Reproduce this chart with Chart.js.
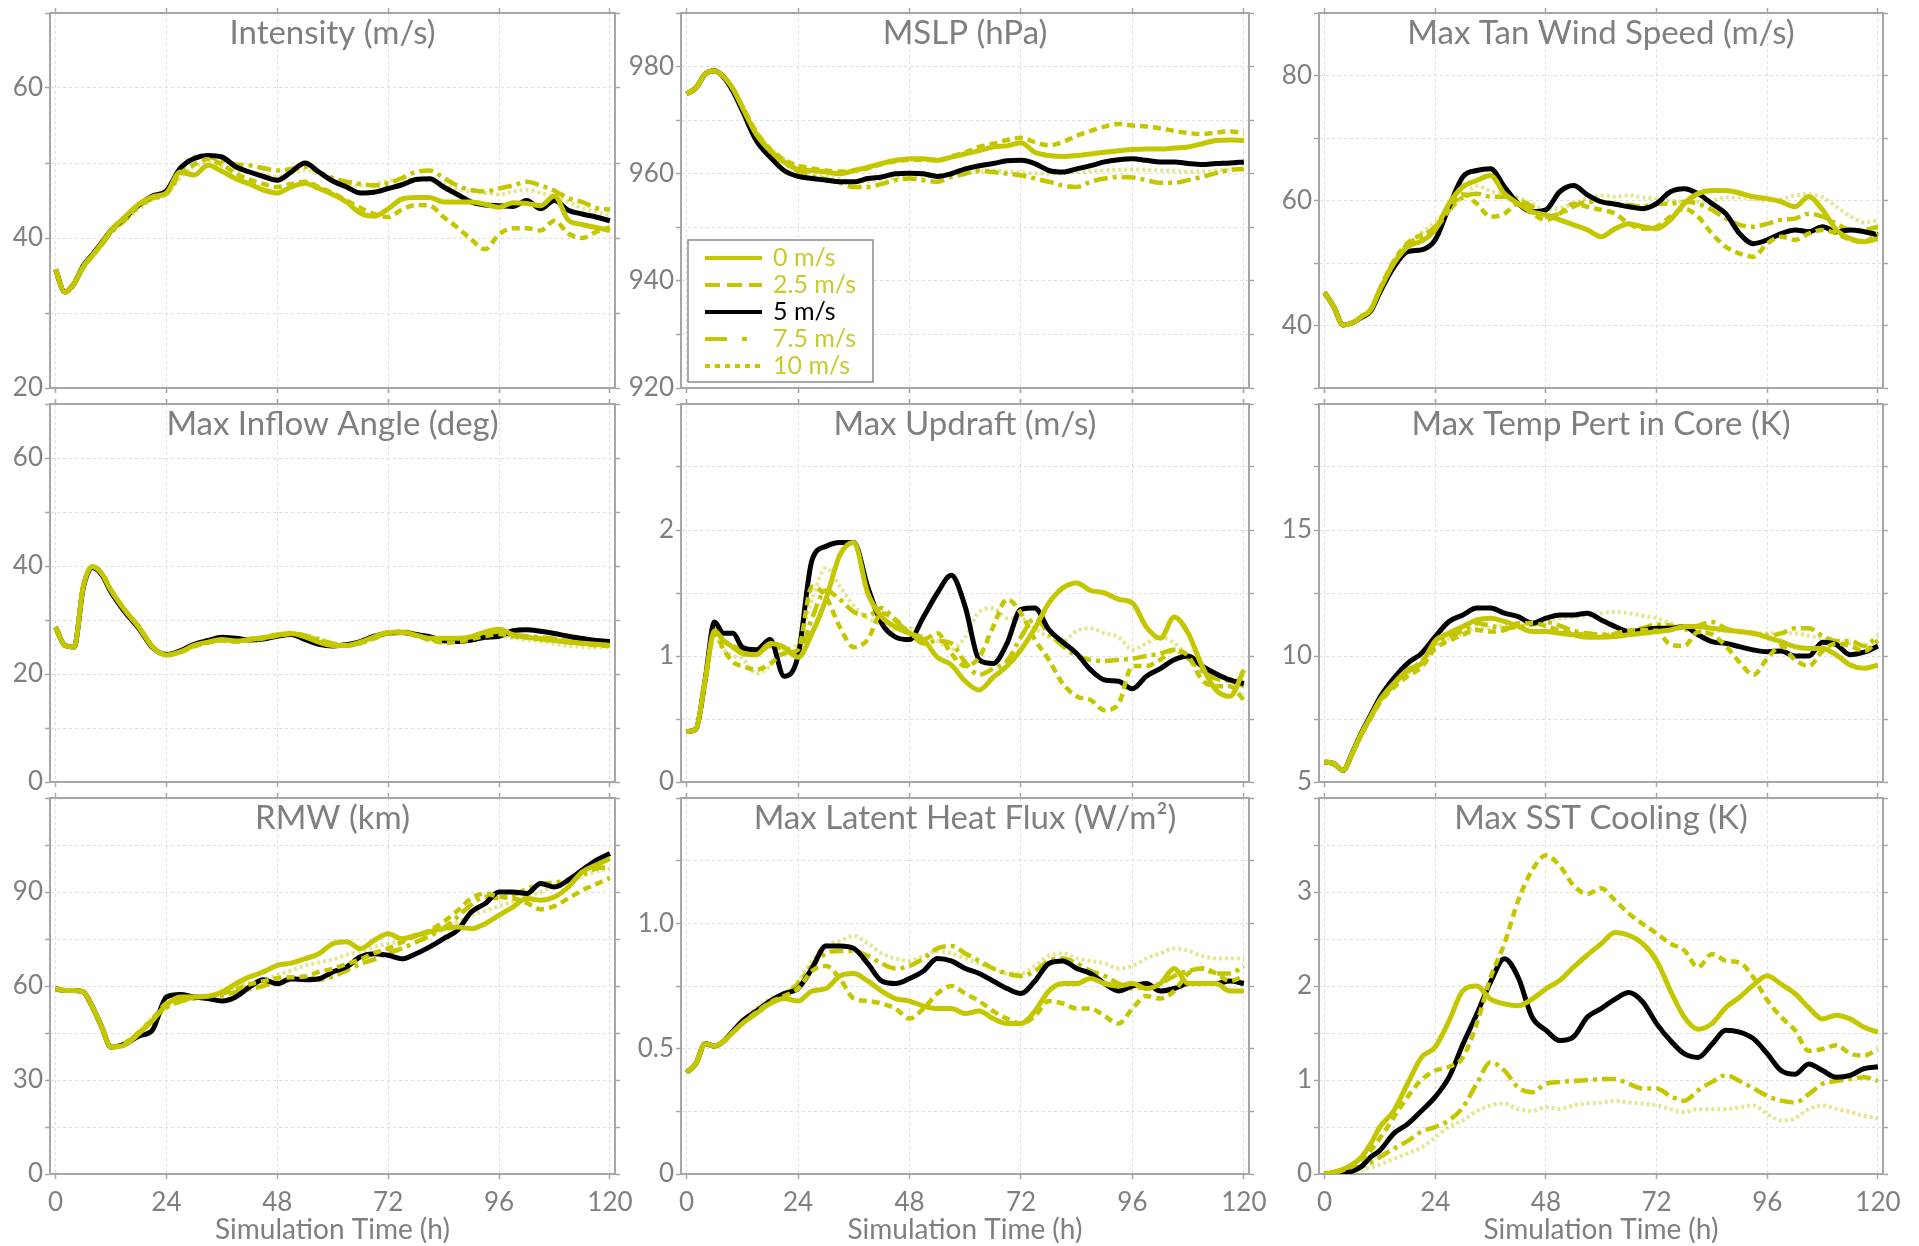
<!DOCTYPE html>
<html>
<head>
<meta charset="utf-8">
<script src="https://cdn.jsdelivr.net/npm/chart.js@4.4.1/dist/chart.umd.min.js"></script>
<style>
  body { margin: 0; background: #fff; width: 1919px; height: 1246px; overflow: hidden; position: relative; }
</style>
</head>
<body>
<script>
// simulation hours shared by every series
const hours = [0,2,4,6,8,10,12,15,18,21,24,27,30,33,36,39,42,45,48,51,54,57,60,63,66,69,72,75,78,81,84,87,90,93,96,99,102,105,108,111,114,117,120];
const xTicks = [0, 24, 48, 72, 96, 120];
const seriesLabels = ["0 m/s", "2.5 m/s", "5 m/s", "7.5 m/s", "10 m/s"];

// Intensity (m/s)
const int0  = [35.8,32.8,33.9,36.2,37.7,39.3,41.0,42.8,44.5,45.5,46.0,48.8,48.4,49.7,48.9,47.9,47.2,46.4,46.0,46.8,47.3,46.6,45.8,44.8,43.3,42.9,43.9,45.2,45.4,45.4,44.8,44.8,44.8,44.5,44.1,44.7,44.6,44.3,45.6,42.4,41.8,41.4,41.0];
const int25 = [35.8,32.7,33.8,36.0,37.6,39.2,40.9,42.6,44.3,45.3,45.9,48.5,49.8,50.5,49.8,48.6,47.8,47.2,46.8,47.2,47.5,46.8,46.0,45.0,44.0,43.2,42.8,43.8,44.4,44.3,42.8,41.4,39.8,38.5,40.5,41.3,41.3,41.0,42.3,40.6,40.0,40.8,41.4];
const int5  = [35.8,32.8,33.9,36.3,37.8,39.4,41.0,42.7,44.4,45.6,46.3,49.3,50.6,51.0,50.8,49.5,48.8,48.2,47.7,48.8,50.0,48.8,47.6,46.8,46.0,46.1,46.6,47.1,47.8,47.9,46.8,45.8,44.8,44.4,44.3,44.2,45.0,43.9,45.0,43.7,43.2,42.8,42.3];
const int75 = [35.8,32.8,33.9,36.2,37.6,39.1,40.7,42.4,44.2,45.3,46.2,49.0,50.8,50.8,50.3,49.8,49.7,49.3,49.0,49.2,49.5,48.8,48.0,47.5,47.2,47.0,47.3,48.0,48.8,49.0,48.0,47.0,46.4,46.2,46.6,47.0,47.5,47.0,46.3,45.3,44.8,44.0,43.8];
const int10 = [35.8,32.9,34.0,36.1,37.5,39.0,40.6,42.2,43.9,45.1,45.8,48.0,49.5,50.0,49.6,49.0,48.8,48.5,48.2,48.6,49.0,48.5,47.8,47.2,47.0,47.2,47.6,47.8,47.9,47.6,47.2,46.5,46.2,46.0,45.8,46.2,46.4,46.0,45.5,44.8,44.0,43.5,43.0];

// MSLP (hPa)
const mslp0  = [974.9,976.0,978.6,979.2,978.1,975.8,972.4,967.4,964.3,962.2,960.8,960.6,960.3,960.0,960.6,961.2,961.9,962.5,962.8,962.8,962.5,963.1,963.7,964.3,965.0,965.2,965.8,964.0,963.4,963.2,963.4,963.7,964.0,964.3,964.5,964.6,964.6,964.8,965.0,965.6,966.2,966.3,966.2];
const mslp25 = [974.9,976.0,978.6,979.2,978.1,975.9,972.6,967.8,964.6,962.6,961.5,961.0,960.6,960.4,960.5,961.0,961.8,962.3,962.6,962.6,962.5,963.2,964.0,965.0,965.6,966.3,966.7,965.9,965.3,965.9,967.1,968.0,968.8,969.3,969.0,968.8,968.5,968.0,967.6,967.4,967.7,967.9,967.6];
const mslp5  = [974.9,976.0,978.6,979.2,978.0,975.4,971.8,966.2,963.1,960.6,959.5,959.1,958.8,958.5,958.5,959.1,959.4,960.0,960.1,960.0,959.5,960.0,960.9,961.5,961.9,962.4,962.5,961.9,960.6,960.3,960.9,961.5,962.2,962.6,962.8,962.5,962.2,962.2,961.9,961.7,961.9,962.0,962.2];
const mslp75 = [974.9,976.0,978.6,979.2,978.1,975.7,972.3,967.2,964.0,962.0,960.5,959.5,959.0,958.3,957.5,957.5,958.1,958.8,959.1,958.8,958.5,959.4,960.0,960.6,960.3,960.0,959.7,959.1,958.5,957.8,957.5,958.5,959.1,959.4,959.3,958.8,958.3,958.3,958.8,959.4,960.1,960.7,960.9];
const mslp10 = [974.9,976.0,978.6,979.2,978.2,976.0,972.8,967.9,964.8,962.8,961.0,960.2,959.5,959.0,958.5,958.6,959.0,959.2,959.5,959.6,959.8,960.0,960.3,960.4,960.6,960.4,960.2,960.1,960.0,960.1,960.3,960.5,960.6,960.7,960.8,960.7,960.6,960.5,960.4,960.4,960.6,960.8,961.0];

// Max Tan Wind Speed (m/s)
const tan0  = [45.3,43.0,40.1,40.4,41.4,42.5,45.7,49.9,52.6,53.5,55.3,59.5,62.2,63.2,64.0,61.1,59.5,58.2,57.7,56.9,56.1,55.3,54.2,55.5,56.3,55.8,55.5,56.9,59.5,61.1,61.6,61.6,61.2,60.6,60.3,59.8,59.0,60.6,58.5,55.3,53.9,53.4,53.9];
const tan25 = [45.3,43.0,40.1,40.4,41.4,42.6,45.9,50.3,53.2,54.5,55.5,58.5,61.0,59.5,57.4,57.9,59.5,57.9,56.9,57.9,59.5,59.0,58.5,57.9,56.3,55.5,55.8,57.4,58.7,57.4,54.7,52.6,51.5,51.0,53.1,54.2,53.7,54.7,55.3,54.7,53.7,53.4,54.7];
const tan5  = [45.3,43.0,40.1,40.4,41.3,42.3,45.3,49.3,51.8,52.1,53.7,59.0,63.8,64.8,65.1,62.2,59.5,58.2,58.5,61.4,62.4,60.9,59.8,59.4,59.0,58.7,59.5,61.4,61.9,61.1,59.5,57.9,54.7,53.1,53.7,54.7,55.3,55.0,55.8,55.0,55.3,55.0,54.5];
const tan75 = [45.3,43.0,40.1,40.4,41.4,42.5,45.8,50.1,53.0,54.2,55.8,58.5,60.5,61.1,60.6,60.6,60.1,59.0,57.4,57.9,59.0,59.8,59.8,59.5,59.3,59.0,59.5,59.5,59.8,59.5,58.5,57.1,56.1,55.8,56.3,56.9,57.1,57.9,57.4,56.3,55.3,55.3,55.8];
const tan10 = [45.3,43.0,40.1,40.4,41.5,42.6,45.6,49.6,52.4,54.8,56.5,58.8,60.5,62.3,61.5,61.0,60.5,59.5,58.5,58.8,59.5,60.3,60.8,60.6,60.8,60.5,60.3,60.0,59.8,59.8,60.0,60.5,60.5,60.2,60.0,60.2,60.8,61.0,60.5,59.0,57.5,56.5,56.8];

// Max Inflow Angle (deg)
const inflow0  = [28.7,25.3,25.0,36.2,39.9,38.6,35.5,31.8,28.7,25.0,23.5,24.1,25.3,25.9,26.4,26.1,26.4,26.7,27.2,27.5,26.9,25.9,25.3,25.3,25.9,26.9,27.7,27.8,27.2,26.6,26.6,26.6,26.9,27.8,28.3,27.3,26.8,26.5,26.2,25.9,25.7,25.5,25.3];
const inflow25 = [28.7,25.3,25.0,36.3,39.9,38.7,35.6,31.9,28.8,25.1,23.6,24.0,25.1,25.8,26.2,26.0,26.3,26.6,27.1,27.4,27.0,26.2,25.4,25.2,25.7,26.6,27.5,27.6,27.1,26.3,25.8,25.9,26.5,27.0,27.4,27.0,26.8,26.6,26.3,26.0,25.6,25.3,25.2];
const inflow5  = [28.7,25.3,25.0,36.0,39.7,38.4,35.2,31.5,28.5,24.9,23.6,24.3,25.5,26.2,26.8,26.6,26.3,26.5,27.0,27.3,26.4,25.5,25.2,25.4,26.0,27.0,27.6,27.7,27.3,26.9,26.2,26.0,26.3,26.8,27.0,28.0,28.2,27.9,27.5,27.0,26.6,26.2,26.0];
const inflow75 = [28.7,25.3,25.0,36.2,39.8,38.6,35.5,31.8,28.7,25.1,23.7,24.2,25.4,26.0,26.3,26.1,26.5,26.8,27.3,27.6,27.1,26.4,25.6,25.3,25.8,26.8,27.6,27.9,27.4,26.5,26.0,26.0,26.3,26.9,27.5,27.2,27.0,26.8,26.5,26.2,25.9,25.8,25.6];
const inflow10 = [28.7,25.3,25.0,36.1,39.8,38.5,35.4,31.7,28.6,25.0,23.6,24.1,25.2,25.8,26.3,26.2,26.4,26.8,27.2,27.5,27.2,26.6,25.8,25.3,25.7,26.6,27.4,27.8,27.5,26.8,26.2,26.0,26.2,26.6,27.0,26.7,26.3,26.0,25.6,25.2,25.0,24.9,25.0];

// Max Updraft (m/s)
const updraft0  = [0.40,0.42,0.81,1.20,1.12,1.07,1.02,1.01,1.10,1.07,0.99,1.18,1.45,1.80,1.90,1.50,1.31,1.23,1.18,1.13,0.99,0.93,0.80,0.73,0.83,0.92,1.05,1.22,1.42,1.54,1.58,1.52,1.50,1.45,1.42,1.23,1.14,1.31,1.18,0.92,0.73,0.68,0.89];
const updraft25 = [0.40,0.42,0.80,1.18,1.05,0.95,0.92,0.89,0.94,1.02,1.05,1.55,1.47,1.23,1.07,1.13,1.34,1.29,1.18,1.13,1.18,1.02,0.92,0.99,1.23,1.45,1.34,1.13,0.97,0.78,0.68,0.65,0.57,0.62,0.92,0.92,0.97,1.05,1.00,0.81,0.76,0.76,0.65];
const updraft5  = [0.40,0.42,0.81,1.27,1.18,1.18,1.07,1.05,1.13,0.84,1.00,1.76,1.87,1.90,1.90,1.55,1.26,1.15,1.13,1.31,1.50,1.64,1.39,0.97,0.94,1.10,1.37,1.38,1.21,1.11,1.02,0.89,0.81,0.80,0.74,0.84,0.90,0.97,1.00,0.92,0.86,0.81,0.78];
const updraft75 = [0.40,0.42,0.81,1.22,1.12,1.08,1.05,1.02,1.08,1.05,1.00,1.30,1.52,1.45,1.35,1.32,1.38,1.28,1.18,1.10,1.12,1.10,0.95,0.85,0.90,0.96,1.15,1.30,1.18,1.08,1.00,0.97,0.96,0.97,0.98,1.00,1.02,1.05,0.98,0.88,0.82,0.80,0.76];
const updraft10 = [0.40,0.42,0.80,1.15,1.05,1.00,0.98,0.86,0.92,1.05,1.10,1.45,1.70,1.55,1.40,1.30,1.25,1.20,1.22,1.15,1.12,1.05,1.15,1.35,1.38,1.30,1.30,1.22,1.15,1.12,1.20,1.22,1.18,1.15,1.05,1.10,1.15,1.10,1.00,0.90,0.85,0.82,0.80];

// Max Temp Pert in Core (K)
const temp0  = [5.80,5.73,5.46,6.13,6.92,7.59,8.25,8.91,9.44,9.70,10.60,10.90,11.17,11.43,11.50,11.37,11.17,10.97,10.97,10.90,10.84,10.74,10.74,10.77,10.84,10.90,10.97,11.03,11.17,11.17,11.10,11.03,10.97,10.90,10.74,10.57,10.37,10.30,10.30,10.04,9.64,9.51,9.64];
const temp25 = [5.80,5.73,5.46,6.10,6.88,7.52,8.15,8.75,9.20,9.55,10.30,10.60,10.85,11.03,10.97,11.03,11.30,11.30,11.20,11.00,10.90,10.84,10.80,10.90,11.00,11.03,11.00,10.45,10.40,10.95,10.85,10.40,9.75,9.25,9.90,10.40,9.85,9.60,10.20,10.50,10.40,10.20,10.60];
const temp5  = [5.80,5.73,5.46,6.15,6.95,7.65,8.35,9.11,9.71,10.10,10.77,11.37,11.63,11.90,11.90,11.70,11.56,11.30,11.50,11.63,11.63,11.70,11.43,11.17,10.97,11.03,11.10,11.10,11.17,10.84,10.57,10.50,10.37,10.24,10.17,10.20,10.00,10.00,10.55,10.45,10.05,10.15,10.40];
const temp75 = [5.80,5.73,5.46,6.12,6.90,7.55,8.20,8.85,9.35,9.80,10.50,10.80,11.00,11.30,11.20,11.10,11.15,11.25,11.35,11.20,11.00,10.90,10.85,10.85,11.00,11.10,11.25,11.20,11.05,11.20,11.35,11.10,10.95,10.90,10.80,10.90,11.10,11.10,10.80,10.60,10.60,10.40,10.80];
const temp10 = [5.80,5.73,5.46,6.11,6.89,7.55,8.20,8.80,9.30,9.75,10.40,10.70,10.90,11.10,11.10,11.20,11.20,11.30,11.40,11.50,11.55,11.60,11.70,11.75,11.70,11.60,11.50,11.30,11.10,11.00,11.00,11.00,11.00,10.90,10.90,10.90,10.90,10.80,10.70,10.60,10.50,10.40,10.60];

// RMW (km)
const rmw0  = [59.1,58.6,58.6,58.1,53.3,46.9,40.5,41.2,44.8,49.0,54.0,56.5,56.5,56.7,58.1,60.7,62.9,64.5,66.6,67.3,68.7,70.3,73.5,74.1,71.9,74.6,76.7,75.1,76.2,77.3,78.3,78.8,78.3,79.9,82.6,85.2,87.9,87.4,88.4,91.6,96.4,98.6,100.7];
const rmw25 = [59.1,58.6,58.6,58.1,53.3,46.9,40.5,41.8,45.2,49.5,54.5,55.5,56.3,57.0,57.5,59.0,60.5,61.5,62.5,62.8,63.0,64.5,65.5,67.0,68.5,70.5,72.0,74.0,76.0,77.8,80.5,84.0,88.0,89.5,88.5,88.0,86.5,84.5,85.5,88.0,90.5,92.5,94.5];
const rmw5  = [59.1,58.6,58.6,58.1,53.3,46.9,40.5,41.5,44.0,46.0,56.5,57.3,56.5,56.0,55.2,56.5,59.7,62.0,60.7,62.3,62.0,62.3,64.5,66.1,69.3,70.3,69.8,68.7,70.3,72.5,75.1,77.8,83.6,86.3,90.0,90.0,89.5,92.7,91.6,93.8,97.0,100.1,102.3];
const rmw75 = [59.1,58.6,58.6,58.1,53.3,46.9,40.5,41.6,45.0,49.0,53.0,55.0,56.0,56.5,57.0,58.0,59.0,60.0,61.5,62.0,63.0,62.0,63.0,65.0,67.0,68.5,70.5,72.0,74.0,76.0,78.5,82.0,86.0,88.5,88.0,89.0,91.0,92.5,93.0,94.0,95.5,97.5,98.0];
const rmw10 = [59.1,58.6,58.6,58.1,53.3,46.9,40.5,41.7,45.5,50.0,53.5,55.5,56.5,57.0,58.0,59.5,61.0,62.0,63.5,65.0,66.5,67.5,68.5,70.0,71.0,72.5,73.5,74.5,76.0,77.5,79.0,80.5,82.5,84.0,85.5,87.0,88.5,90.0,92.0,93.5,95.0,96.5,97.5];

// Max Latent Heat Flux (W/m2)
const lhf0  = [0.405,0.44,0.52,0.51,0.53,0.565,0.60,0.64,0.68,0.70,0.69,0.73,0.74,0.79,0.80,0.77,0.73,0.70,0.69,0.67,0.66,0.66,0.64,0.65,0.62,0.60,0.60,0.65,0.73,0.76,0.76,0.78,0.76,0.75,0.76,0.74,0.76,0.82,0.76,0.76,0.76,0.73,0.73];
const lhf25 = [0.405,0.44,0.52,0.51,0.53,0.565,0.60,0.645,0.685,0.71,0.74,0.81,0.83,0.78,0.70,0.69,0.68,0.66,0.62,0.66,0.72,0.75,0.72,0.69,0.65,0.62,0.60,0.63,0.69,0.68,0.66,0.66,0.63,0.60,0.66,0.71,0.70,0.73,0.80,0.82,0.80,0.77,0.79];
const lhf5  = [0.405,0.44,0.52,0.51,0.53,0.57,0.61,0.65,0.69,0.72,0.74,0.82,0.91,0.91,0.90,0.84,0.77,0.76,0.78,0.81,0.86,0.85,0.82,0.80,0.77,0.74,0.72,0.77,0.84,0.85,0.82,0.80,0.76,0.73,0.75,0.76,0.73,0.74,0.76,0.76,0.76,0.77,0.76];
const lhf75 = [0.405,0.44,0.52,0.51,0.53,0.57,0.61,0.65,0.69,0.71,0.76,0.83,0.88,0.89,0.89,0.87,0.84,0.82,0.83,0.86,0.90,0.91,0.88,0.85,0.82,0.80,0.79,0.81,0.85,0.86,0.84,0.81,0.79,0.76,0.74,0.75,0.76,0.79,0.81,0.82,0.80,0.80,0.83];
const lhf10 = [0.405,0.44,0.52,0.51,0.53,0.57,0.61,0.66,0.70,0.72,0.77,0.85,0.91,0.93,0.95,0.92,0.88,0.86,0.85,0.87,0.89,0.88,0.86,0.84,0.82,0.80,0.80,0.83,0.87,0.88,0.86,0.85,0.84,0.82,0.83,0.86,0.88,0.90,0.89,0.87,0.86,0.86,0.86];

// Max SST Cooling (K)
const sst0  = [0.0,0.02,0.05,0.10,0.18,0.32,0.50,0.67,0.96,1.24,1.35,1.63,1.95,2.00,1.86,1.81,1.79,1.86,1.97,2.06,2.20,2.33,2.45,2.57,2.54,2.45,2.27,1.95,1.67,1.54,1.60,1.77,1.88,2.01,2.11,2.02,1.92,1.77,1.65,1.69,1.65,1.56,1.51];
const sst25 = [0.0,0.01,0.04,0.08,0.15,0.25,0.38,0.60,0.82,1.00,1.10,1.14,1.24,1.60,2.09,2.45,2.91,3.23,3.39,3.28,3.07,2.98,3.04,2.91,2.77,2.66,2.56,2.45,2.38,2.20,2.34,2.27,2.25,2.09,1.85,1.67,1.53,1.31,1.33,1.37,1.28,1.26,1.33];
const sst5  = [0.0,0.0,0.01,0.03,0.08,0.18,0.25,0.43,0.53,0.67,0.82,1.03,1.38,1.70,2.04,2.29,2.09,1.67,1.53,1.42,1.46,1.67,1.76,1.86,1.93,1.83,1.60,1.42,1.28,1.24,1.38,1.53,1.51,1.44,1.28,1.10,1.06,1.17,1.10,1.03,1.05,1.12,1.14];
const sst75 = [0.0,0.0,0.02,0.05,0.08,0.12,0.18,0.27,0.35,0.45,0.50,0.57,0.71,0.96,1.19,1.10,0.92,0.87,0.96,0.98,0.99,1.00,1.01,1.01,0.96,0.91,0.91,0.83,0.78,0.89,0.98,1.05,0.99,0.91,0.83,0.78,0.76,0.85,0.96,0.99,1.01,1.03,0.99];
const sst10 = [0.0,0.0,0.01,0.02,0.04,0.07,0.10,0.16,0.22,0.28,0.39,0.50,0.57,0.67,0.73,0.75,0.69,0.67,0.71,0.69,0.73,0.75,0.76,0.78,0.76,0.75,0.73,0.69,0.66,0.69,0.69,0.69,0.71,0.73,0.64,0.57,0.59,0.69,0.73,0.69,0.66,0.62,0.59];

// y axis: [min, max, grid step, label step, first labelled value]
const panels = [
  { title: "Intensity (m/s)", series: [int0, int25, int5, int75, int10], y: [20, 70, 10, 20, 20] },
  { title: "MSLP (hPa)", series: [mslp0, mslp25, mslp5, mslp75, mslp10], y: [920, 990, 10, 20, 920] },
  { title: "Max Tan Wind Speed (m/s)", series: [tan0, tan25, tan5, tan75, tan10], y: [30, 90, 10, 20, 40] },
  { title: "Max Inflow Angle (deg)", series: [inflow0, inflow25, inflow5, inflow75, inflow10], y: [0, 70, 10, 20, 0] },
  { title: "Max Updraft (m/s)", series: [updraft0, updraft25, updraft5, updraft75, updraft10], y: [0, 3, 0.5, 1, 0] },
  { title: "Max Temp Pert in Core (K)", series: [temp0, temp25, temp5, temp75, temp10], y: [5, 20, 2.5, 5, 5] },
  { title: "RMW (km)", series: [rmw0, rmw25, rmw5, rmw75, rmw10], y: [0, 120, 15, 30, 0] },
  { title: "Max Latent Heat Flux (W/m\u00B2)", series: [lhf0, lhf25, lhf5, lhf75, lhf10], y: [0, 1.5, 0.25, 0.5, 0], fixed: 1 },
  { title: "Max SST Cooling (K)", series: [sst0, sst25, sst5, sst75, sst10], y: [0, 4, 0.5, 1, 0] },
];

const yellow = "#c4c700";
const legendYellow = "#c9c92e";
const frameGray = "#a6a6a6";
const textGray = "#7f7f7f";

const lineStyles = [
  { color: yellow, dash: [], width: 5 },
  { color: yellow, dash: [8, 5], width: 4.5 },
  { color: "#000000", dash: [], width: 5 },
  { color: yellow, dash: [14, 5, 4, 5], width: 4.5 },
  { color: "rgba(196,199,0,0.45)", dash: [3, 3], width: 4 },
];
const legendDash = [[], [15, 7], [], [22, 15, 5, 15], [5, 5]];

// page position of every plot frame
const colLeft = [50, 681, 1319], colRight = [615, 1249, 1883];
const rowTop = [13, 404, 798], rowBottom = [388, 782, 1174];
const padL = 60, padR = 12, padT = 10;

const panelTitle = {
  id: "panelTitle",
  afterDatasetsDraw(chart, args, opts) {
    const { ctx, chartArea } = chart;
    ctx.save();
    ctx.font = "33px Lato";
    ctx.fillStyle = textGray;
    ctx.textAlign = "center";
    ctx.textBaseline = "middle";
    ctx.fillText(opts.text, (chartArea.left + chartArea.right) / 2, chartArea.top + 20);
    ctx.restore();
  },
};

const boxLegend = {
  id: "boxLegend",
  afterDatasetsDraw(chart) {
    const { ctx, chartArea } = chart;
    const w = 185, h = 142;
    const x = chartArea.left + 7, y = chartArea.bottom - 6 - h;
    ctx.save();
    ctx.fillStyle = "#fff";
    ctx.fillRect(x, y, w, h);
    ctx.strokeStyle = "#8c8c8c";
    ctx.lineWidth = 1.5;
    ctx.strokeRect(x, y, w, h);
    chart.data.datasets.forEach((ds, k) => {
      const yy = y + 18 + k * 27;
      ctx.beginPath();
      ctx.setLineDash(legendDash[k]);
      ctx.lineWidth = 4;
      ctx.strokeStyle = k === 2 ? "#000" : yellow;
      ctx.moveTo(x + 17, yy);
      ctx.lineTo(x + 74, yy);
      ctx.stroke();
      ctx.setLineDash([]);
      ctx.fillStyle = k === 2 ? "#000" : legendYellow;
      ctx.font = "25px Lato";
      ctx.textAlign = "left";
      ctx.textBaseline = "middle";
      ctx.fillText(ds.label, x + 85, yy);
    });
    ctx.restore();
  },
};

function yTickList(min, max, step) {
  const out = [];
  for (let v = min; v <= max + 1e-9; v += step) out.push({ value: Math.round(v * 1000) / 1000 });
  return out;
}

panels.forEach((p, i) => {
  const col = i % 3, row = Math.floor(i / 3);
  const bottomRow = row === 2;
  const padB = bottomRow ? 73 : 10;
  const extraR = bottomRow ? 30 : 0; // room for the "120" label
  const fw = colRight[col] - colLeft[col];
  const fh = rowBottom[row] - rowTop[row];
  const [yMin, yMax, yStep, labelStep, labelBase] = p.y;

  const canvas = document.createElement("canvas");
  canvas.width = fw + padL + padR + extraR;
  canvas.height = fh + padT + padB;
  canvas.style.position = "absolute";
  canvas.style.left = colLeft[col] - padL + "px";
  canvas.style.top = rowTop[row] - padT + "px";
  document.body.appendChild(canvas);

  const datasets = p.series.map((arr, k) => ({
    label: seriesLabels[k],
    data: hours.map((h, j) => ({ x: h, y: arr[j] })),
    borderColor: lineStyles[k].color,
    borderDash: lineStyles[k].dash,
    borderWidth: lineStyles[k].width,
    pointRadius: 0,
    fill: false,
    cubicInterpolationMode: "monotone",
    xAxisID: "x",
    yAxisID: "y",
  }));

  const tickMarks = { tickLength: 5, tickColor: frameGray, tickWidth: 1.5 };
  const border = { display: true, color: frameGray, width: 2, dash: [3, 3] };
  const xBuild = (s) => { s.ticks = xTicks.map((v) => ({ value: v })); };
  const yBuild = (s) => { s.ticks = yTickList(yMin, yMax, yStep); };
  // fixed axis sizes so the plot frame lands exactly where it should
  const fitX = (size) => (s) => { s.height = size; s.paddingLeft = 0; s.paddingRight = 0; };
  const fitY = (size) => (s) => { s.width = size; s.paddingTop = 0; s.paddingBottom = 0; };

  new Chart(canvas, {
    type: "line",
    data: { datasets },
    plugins: i === 1 ? [panelTitle, boxLegend] : [panelTitle],
    options: {
      responsive: false,
      animation: false,
      devicePixelRatio: 1,
      layout: { padding: { left: 0, top: 0, bottom: 0, right: extraR } },
      plugins: {
        legend: { display: false },
        tooltip: { enabled: false },
        panelTitle: { text: p.title },
      },
      scales: {
        x: {
          type: "linear", position: "bottom", min: -1.2, max: 121.1,
          afterBuildTicks: xBuild,
          afterFit: fitX(padB),
          grid: { color: "#dedede", lineWidth: 1, ...tickMarks },
          border,
          ticks: {
            display: bottomRow, color: textGray, padding: 8, maxRotation: 0, autoSkip: false,
            font: { family: "Lato", size: 26 },
          },
          title: {
            display: bottomRow, text: "Simulation Time (h)", color: textGray, padding: 0,
            font: { family: "Lato", size: 28 },
          },
        },
        xTop: {
          type: "linear", position: "top", min: -1.2, max: 121.1,
          afterBuildTicks: xBuild,
          afterFit: fitX(padT),
          grid: { drawOnChartArea: false, ...tickMarks },
          border: { display: true, color: frameGray, width: 2 },
          ticks: { display: false },
        },
        y: {
          type: "linear", position: "left", min: yMin, max: yMax,
          afterBuildTicks: yBuild,
          afterFit: fitY(padL),
          grid: { color: "#dedede", lineWidth: 1, ...tickMarks },
          border,
          ticks: {
            color: textGray, padding: 2,
            font: { family: "Lato", size: 26 },
            callback: (v) => {
              if (Math.abs(v - yMax) < 1e-9) return "";
              const r = (v - labelBase) / labelStep;
              if (Math.abs(r - Math.round(r)) > 1e-6) return "";
              if (p.fixed && v !== 0) return v.toFixed(p.fixed);
              return String(v);
            },
          },
        },
        yRight: {
          type: "linear", position: "right", min: yMin, max: yMax,
          afterBuildTicks: yBuild,
          afterFit: fitY(padR),
          grid: { drawOnChartArea: false, ...tickMarks },
          border: { display: true, color: frameGray, width: 2 },
          ticks: { display: false },
        },
      },
    },
  });
});
</script>
</body>
</html>
